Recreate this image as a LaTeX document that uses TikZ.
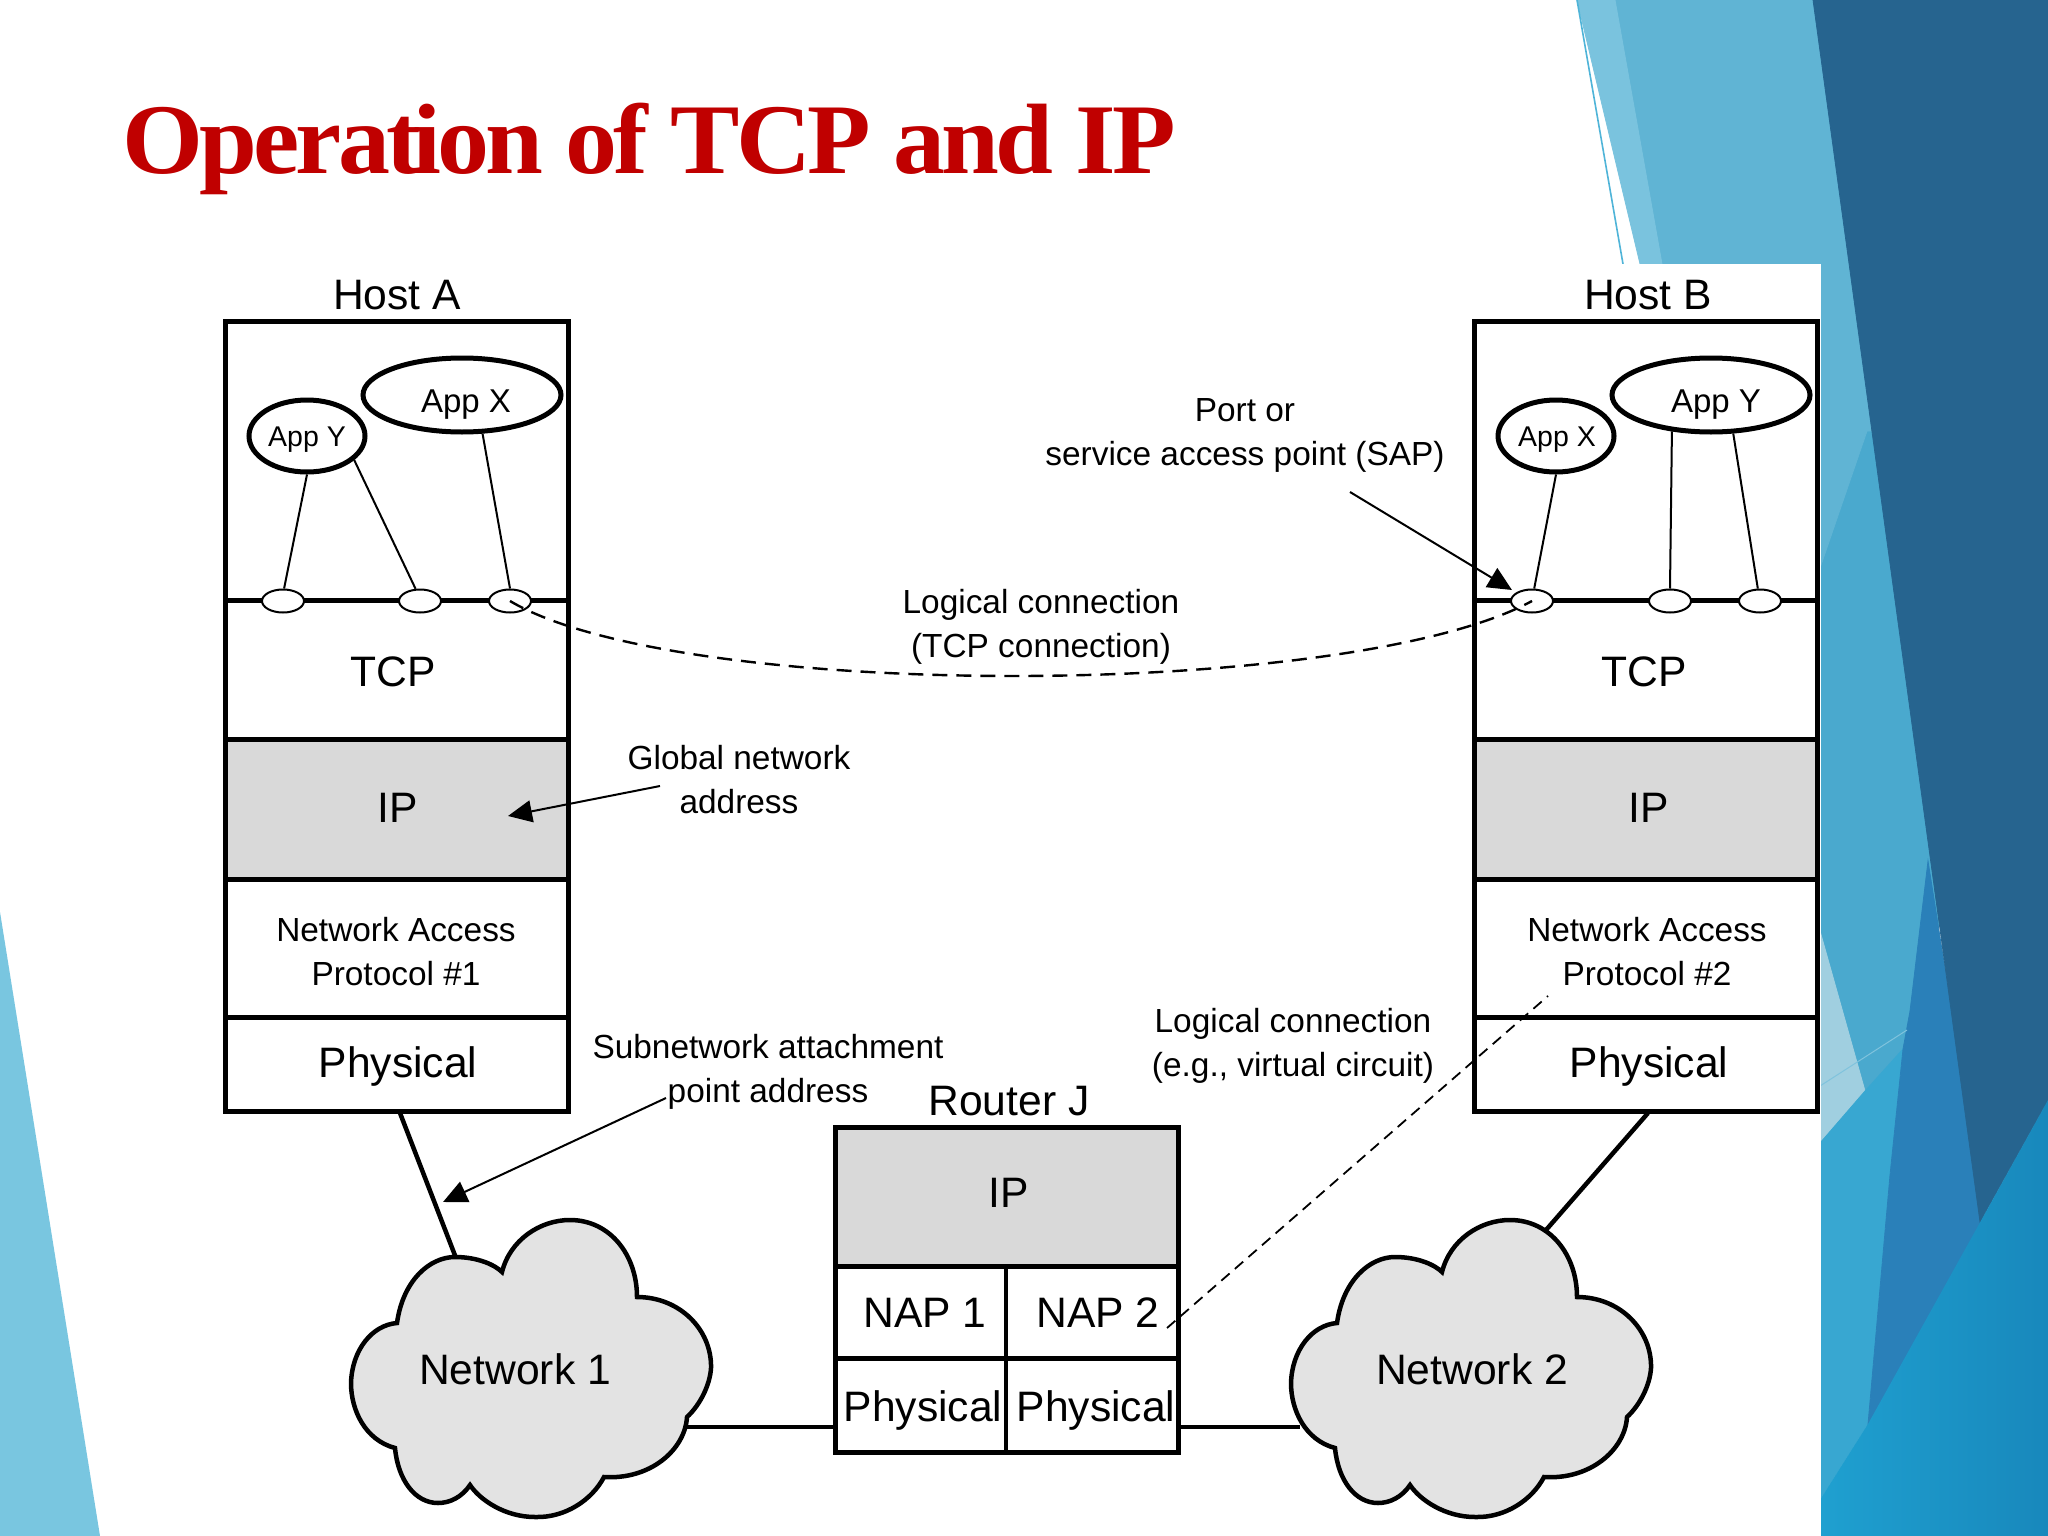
\documentclass[tikz,border=0pt]{standalone}
\usepackage{fontspec}
\setmainfont{Liberation Sans}
\newfontfamily\titlefont{Liberation Serif}
\usetikzlibrary{arrows.meta,shapes.geometric}
\definecolor{ipgray}{HTML}{D9D9D9}
\definecolor{cloudgray}{HTML}{E3E3E3}
\definecolor{titlered}{HTML}{C00000}
\definecolor{leftwedge}{HTML}{79C6E0}
\definecolor{bglight}{HTML}{60B4D4}
\definecolor{bgband}{HTML}{7AC3DE}
\definecolor{bgline}{HTML}{4FB4D8}
\definecolor{bgmid}{HTML}{4AA9CE}
\definecolor{bgpale}{HTML}{A0CFE0}
\definecolor{bgdark}{HTML}{26648F}
\definecolor{bgblue}{HTML}{2A80B9}
\definecolor{bgtealL}{HTML}{1FA0D0}
\definecolor{bgtealR}{HTML}{1888BC}
\definecolor{bgcyan}{HTML}{38A7D1}
\tikzset{
  layerbox/.style={draw=black,line width=5pt,fill=white},
  ipbox/.style={draw=black,line width=5pt,fill=ipgray},
  rule/.style={draw=black,line width=5pt},
  big/.style={font=\fontsize{42.6}{50}\selectfont,inner sep=0pt,align=center},
  small/.style={font=\fontsize{33.4}{44}\selectfont,inner sep=0pt,align=center},
  appsmall/.style={draw=black,line width=5pt,fill=white,ellipse,minimum width=116pt,minimum height=72pt,inner sep=0pt},
  applarge/.style={draw=black,line width=5pt,fill=white,ellipse,minimum width=198pt,minimum height=74pt,inner sep=0pt},
  appsmalltext/.style={font=\fontsize{28.5}{34}\selectfont,inner sep=0pt},
  applargetext/.style={font=\fontsize{33}{40}\selectfont,inner sep=0pt},
  portnode/.style={draw=black,line width=2pt,fill=white,ellipse,minimum width=42pt,minimum height=23pt,inner sep=0pt},
  thinwire/.style={draw=black,line width=2pt},
  thickwire/.style={draw=black,line width=4.5pt},
  pointer/.style={draw=black,line width=2pt,-{Triangle[length=24pt,width=22pt]}},
  dashline/.style={draw=black,line width=2.4pt,dash pattern=on 15pt off 9pt},
  finedash/.style={draw=black,line width=1.8pt,dash pattern=on 11pt off 7pt},
  cloudbody/.style={draw=black,line width=4.5pt,fill=cloudgray},
  facet/.style={fill=#1,draw=#1,line width=0.8pt},
}
\newcommand{\cloudpath}{
  (397,1323) .. controls (403,1280) and (430,1257) .. (455,1257)
  .. controls (478,1257) and (495,1265) .. (502,1272)
  .. controls (510,1240) and (540,1220) .. (570,1220)
  .. controls (610,1220) and (637,1255) .. (637,1297)
  .. controls (680,1297) and (712,1330) .. (711,1368)
  .. controls (710,1385) and (700,1405) .. (687,1417)
  .. controls (685,1450) and (650,1480) .. (604,1477)
  .. controls (592,1500) and (565,1518) .. (535,1517)
  .. controls (505,1517) and (480,1500) .. (470,1485)
  .. controls (462,1497) and (450,1503) .. (438,1503)
  .. controls (415,1503) and (398,1480) .. (395,1448)
  .. controls (365,1440) and (351,1410) .. (351,1383)
  .. controls (352,1350) and (372,1325) .. (397,1323) -- cycle}
\newcommand{\hoststack}[4]{% prefix, x shift, NAP label, name
  \begin{scope}[xshift=#2pt]
    \draw[layerbox] (225,321) rectangle (568,1111);
    \draw[ipbox] (225,739) rectangle (568,879);
    \draw[rule] (225,1017) -- (568,1017);
    \draw[rule] (225,600) -- (568,600);
  \end{scope}
  \begin{scope}[xshift=#2pt,xshift=\hostdx pt]
    \node[big] (#1name) at (397,295) {#4};
    \node[big] (#1tcp) at (393,672) {TCP};
    \node[big] (#1ip) at (398,808) {IP};
    \node[small] (#1nap) at (396,952) {Network Access\\Protocol #3};
    \node[big] (#1phys) at (398,1066) {Physical};
  \end{scope}}
\begin{document}
\begin{tikzpicture}[x=1pt,y=-1pt]
\useasboundingbox (0,0) rectangle (2048,1536);
\fill[white] (0,0) rectangle (2048,1536);
% slide backdrop
\fill[leftwedge] (0,912) -- (100,1536) -- (0,1536) -- cycle;
\path[facet=bgmid] (1820,500) -- (1900,300) -- (1960,861) -- (1910,1011) -- (1903,1049) -- (1865,1091) -- (1820,931) -- cycle;
\path[facet=bglight] (1615,0) -- (1830,0) -- (1880,431) -- (1867,431) -- (1820,568) -- (1820,264) -- (1662,264) -- cycle;
\path[facet=bgband] (1577,0) -- (1615,0) -- (1662,264) -- (1640,264) -- cycle;
\draw[bgline,line width=1.6pt] (1577,0) -- (1623,264);
\path[facet=bgpale] (1820,931) -- (1865,1091) -- (1820,1143) -- cycle;
\path[facet=bgcyan] (1820,1143) -- (1865,1091) -- (1903,1049) -- (1890,1175) -- (1868,1424) -- (1820,1500) -- cycle;
\path[facet=bgblue] (1928,861) -- (1985,1222) -- (1868,1424) -- (1890,1175) -- (1903,1049) -- (1910,1011) -- cycle;
\path[facet=bgdark] (1813,0) -- (2048,0) -- (2048,1100) -- (1980,1222) -- cycle;
\shade[left color=bgtealL,right color=bgtealR] (2048,1100) -- (1868,1424) -- (1820,1500) -- (1820,1536) -- (2048,1536) -- cycle;
\draw[bgmid!70!white,line width=1pt] (1820,1086) -- (1907,1030);
\fill[white] (150,264) rectangle (1821,1536);
% title
\node[anchor=base west,inner sep=0pt,text=titlered,font=\titlefont\bfseries\fontsize{100}{120}\selectfont] (title) at (122,173) {\addfontfeature{FakeStretch=1.04,LetterSpace=-3.75}Operat\kern-9pt ion of TCP and IP};
% hosts
\def\hostdx{0}
\hoststack{a}{0}{\#1}{Host A}
\def\hostdx{2}
\hoststack{b}{1249}{\#2}{Host B}
% apps host A
\node[appsmall] (ay) at (307,436) {};
\node[applarge] (ax) at (462,395) {};
\node[appsmalltext] (ayt) at (307,440) {App Y};
\node[applargetext] (axt) at (466,405) {App X};
\node[portnode] (pa1) at (283,601) {};
\node[portnode] (pa2) at (420,601) {};
\node[portnode] (pa3) at (510,601) {};
\draw[thinwire] (ay.-90) -- (pa1.85);
\draw[thinwire] (ay.-27) -- (pa2.110);
\draw[thinwire] (ax.-62) -- (pa3.90);
% apps host B
\node[appsmall] (bx) at (1556,436) {};
\node[applarge] (by) at (1711,395) {};
\node[appsmalltext] (bxt) at (1557,440) {App X};
\node[applargetext] (byt) at (1716,405) {App Y};
\node[portnode] (pb1) at (1532,601) {};
\node[portnode] (pb2) at (1670,601) {};
\node[portnode] (pb3) at (1760,601) {};
\draw[thinwire] (bx.-90) -- (pb1.80);
\draw[thinwire] (by.-137) -- (pb2.90);
\draw[thinwire] (by.-60) -- (pb3.100);
% router
\node[big] (rname) at (1009,1101) {Router J};
\draw[layerbox] (835,1127) rectangle (1178,1452);
\draw[ipbox] (835,1127) rectangle (1178,1266);
\draw[rule] (835,1358) -- (1178,1358);
\draw[draw=black,line width=4pt] (1006,1266) -- (1006,1452);
\node[big] (rip) at (1009,1193) {IP};
\node[big] (rnap1) at (925,1313) {NAP 1};
\node[big] (rnap2) at (1098,1313) {NAP 2};
\node[big] (rph1) at (923,1410) {Physical};
\node[big] (rph2) at (1096,1410) {Physical};
% links under clouds
\coordinate (c1top) at (456,1258);
\coordinate (c1right) at (687,1427);
\coordinate (rleft) at (835,1427);
\coordinate (rright) at (1178,1427);
\coordinate (c2left) at (1300,1427);
\coordinate (c2top) at (1546,1230);
\coordinate (hA) at (400,1113);
\coordinate (hB) at (1648,1113);
\draw[thickwire] (hA) -- (c1top);
\draw[thickwire] (hB) -- (c2top);
\draw[thickwire] (c1right) -- (rleft);
\draw[thickwire] (rright) -- (c2left);
% clouds
\draw[cloudbody] \cloudpath;
\begin{scope}[xshift=940pt]
\draw[cloudbody] \cloudpath;
\end{scope}
\node[big] (n1) at (515,1369) {Network 1};
\node[big] (n2) at (1472,1369) {Network 2};
% labels
\node[small] (lc1) at (1041,627) {Logical connection\\(TCP connection)};
\node[small] (sap) at (1245,435) {Port or\\service access point (SAP)};
\node[small] (gna) at (739,780) {Global network\\address};
\node[small] (spa) at (768,1072) {Subnetwork attachment\\point address};
\node[small] (lc2) at (1293,1046) {Logical connection\\(e.g., virtual circuit)};
% dashed and pointers
\draw[dashline] (pa3.center) .. controls (680,702) and (1350,700) .. (pb1.center);
\coordinate (sapfrom) at (1350,492);
\coordinate (sapto) at (1512,590);
\coordinate (gnafrom) at (660,786);
\coordinate (gnato) at (508,816);
\coordinate (spafrom) at (666,1098);
\coordinate (spato) at (443,1202);
\coordinate (napfrom) at (1167,1328);
\coordinate (napto) at (1548,996);
\draw[pointer] (sapfrom) -- (sapto);
\draw[pointer] (gnafrom) -- (gnato);
\draw[pointer] (spafrom) -- (spato);
\draw[finedash] (napfrom) -- (napto);
\end{tikzpicture}
\end{document}
